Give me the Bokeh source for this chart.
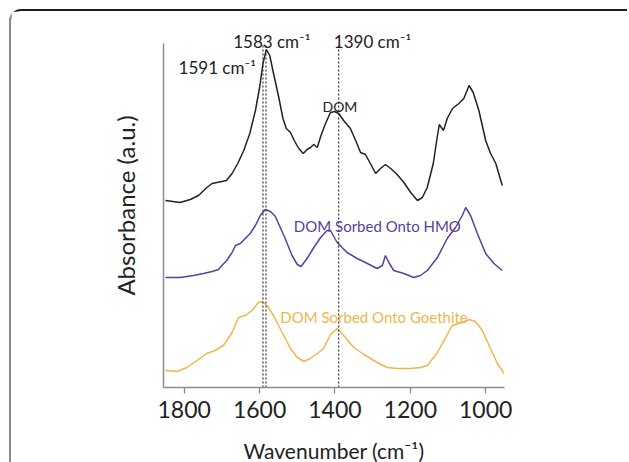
from bokeh.plotting import figure
from bokeh.models import Range1d, FixedTicker, Label
from bokeh.embed import file_html
from bokeh.resources import INLINE

# ---- data ----
dom_wn = [1850, 1811, 1784, 1762, 1740, 1726, 1713, 1700, 1688, 1673, 1658, 1642, 1626, 1611,
          1600, 1591, 1582, 1573, 1563, 1549, 1538, 1529, 1518, 1508, 1496, 1484, 1474, 1465,
          1456, 1447, 1437, 1425, 1412, 1401, 1390, 1377, 1359, 1345, 1332, 1319, 1306, 1292,
          1279, 1266, 1252, 1235, 1217, 1199, 1181, 1168, 1155, 1139, 1130, 1123, 1112, 1102,
          1088, 1071, 1058, 1044, 1033, 1018, 1000, 987, 973, 956]
dom_abs = [1.87, 1.85, 1.88, 1.92, 2.00, 2.04, 2.05, 2.06, 2.07, 2.14, 2.24, 2.37, 2.54, 2.77,
           3.00, 3.24, 3.38, 3.32, 3.14, 2.90, 2.69, 2.59, 2.55, 2.47, 2.39, 2.34, 2.38, 2.40,
           2.43, 2.40, 2.52, 2.64, 2.75, 2.76, 2.74, 2.67, 2.59, 2.47, 2.35, 2.33, 2.24, 2.14,
           2.19, 2.23, 2.19, 2.13, 2.05, 1.95, 1.87, 1.90, 2.00, 2.24, 2.47, 2.63, 2.57, 2.69,
           2.79, 2.84, 2.89, 3.02, 2.95, 2.77, 2.47, 2.34, 2.24, 2.02]

hmo_wn = [1850, 1811, 1775, 1749, 1726, 1709, 1700, 1687, 1673, 1664, 1651, 1638, 1625, 1611,
          1598, 1585, 1571, 1558, 1545, 1532, 1514, 1500, 1490, 1474, 1456, 1438, 1421, 1412,
          1394, 1368, 1341, 1314, 1288, 1274, 1266, 1257, 1244, 1217, 1191, 1173, 1155, 1128,
          1102, 1080, 1062, 1053, 1040, 1022, 1000, 978, 956]
hmo_abs = [1.10, 1.10, 1.12, 1.14, 1.16, 1.18, 1.22, 1.27, 1.35, 1.42, 1.44, 1.49, 1.54, 1.62,
           1.72, 1.78, 1.76, 1.71, 1.60, 1.49, 1.32, 1.23, 1.21, 1.29, 1.40, 1.50, 1.57, 1.57,
           1.45, 1.35, 1.29, 1.24, 1.19, 1.22, 1.32, 1.25, 1.17, 1.14, 1.10, 1.12, 1.17, 1.30,
           1.49, 1.60, 1.72, 1.80, 1.72, 1.54, 1.34, 1.24, 1.17]

goe_wn = [1850, 1819, 1793, 1766, 1740, 1718, 1696, 1673, 1656, 1638, 1620, 1603, 1594, 1580,
          1563, 1540, 1518, 1500, 1483, 1465, 1447, 1430, 1412, 1394, 1377, 1350, 1323, 1288,
          1261, 1235, 1199, 1173, 1155, 1128, 1106, 1089, 1062, 1044, 1027, 1009, 987, 969, 951]
goe_abs = [0.17, 0.16, 0.20, 0.27, 0.34, 0.37, 0.42, 0.55, 0.70, 0.72, 0.77, 0.85, 0.86, 0.82,
           0.72, 0.55, 0.39, 0.30, 0.26, 0.29, 0.34, 0.39, 0.53, 0.59, 0.52, 0.40, 0.33, 0.25,
           0.20, 0.19, 0.19, 0.20, 0.22, 0.35, 0.50, 0.62, 0.65, 0.68, 0.66, 0.57, 0.39, 0.24, 0.14]

marker_wn = [1591, 1583, 1390]
x_ticks = [1800, 1600, 1400, 1200, 1000]
y_axis_span = (0, 3.44)

FONT = "Lato"
BLACK = "#222222"
PURPLE = "#5b3f9b"
ORANGE = "#f2b54a"

p = figure(width=618, height=461, output_backend="svg", toolbar_location=None,
           x_range=Range1d(1855, 950), y_range=Range1d(0, 3.64),
           min_border_left=152, min_border_right=125, min_border_top=12, min_border_bottom=85)
p.styles = {"margin-left": "9px", "margin-top": "9px",
            "border-left": "2px solid #8a8a8a", "border-top": "2px solid #1e1e1e",
            "border-top-left-radius": "12px"}
p.outline_line_color = None
p.xgrid.visible = False
p.ygrid.visible = False
p.background_fill_color = "white"
p.border_fill_color = "white"

ax = p.xaxis[0]
ax.ticker = FixedTicker(ticks=x_ticks)
ax.minor_tick_line_color = None
ax.major_tick_in = 0
ax.major_tick_out = 6
ax.axis_line_color = "#8c8c8c"
ax.axis_line_width = 1.5
ax.major_tick_line_color = "#8c8c8c"
ax.major_tick_line_width = 1.3
ax.major_label_text_font = FONT
ax.major_label_text_font_size = "23px"
ax.major_label_text_color = BLACK
ax.major_label_standoff = 7
ax.axis_label = "Wavenumber (cm⁻¹)"
ax.axis_label_text_font = FONT
ax.axis_label_text_font_size = "21px"
ax.axis_label_text_font_style = "normal"
ax.axis_label_text_color = BLACK
ax.axis_label_standoff = 17

ay = p.yaxis[0]
ay.ticker = FixedTicker(ticks=[])
ay.bounds = y_axis_span
ay.minor_tick_line_color = None
ay.major_tick_line_color = None
ay.major_label_standoff = 0
ay.axis_line_color = "#8c8c8c"
ay.axis_line_width = 1.5
ay.axis_label = "Absorbance (a.u.)"
ay.axis_label_text_font = FONT
ay.axis_label_text_font_size = "24px"
ay.axis_label_text_font_style = "normal"
ay.axis_label_text_color = BLACK
ay.axis_label_standoff = 24

p.line(dom_wn, dom_abs, line_color=BLACK, line_width=1.5)
p.line(hmo_wn, hmo_abs, line_color=PURPLE, line_width=1.5)
p.line(goe_wn, goe_abs, line_color=ORANGE, line_width=1.5)

p.segment(x0=marker_wn, y0=[y_axis_span[0]] * len(marker_wn),
          x1=marker_wn, y1=[y_axis_span[1]] * len(marker_wn),
          line_color="#333333", line_width=1.2, line_dash="2 2")

labels = [
    ("1583 cm⁻¹", 1670, 3.463, BLACK, "17px"),
    ("1390 cm⁻¹", 1403, 3.463, BLACK, "17px"),
    ("1591 cm⁻¹", 1815, 3.203, BLACK, "17px"),
    ("DOM", 1433, 2.81, BLACK, "14px"),
    ("DOM Sorbed Onto HMO", 1509, 1.62, PURPLE, "15px"),
    ("DOM Sorbed Onto Goethite", 1545, 0.703, ORANGE, "15px"),
]
for t, x, y, c, s in labels:
    p.add_layout(Label(x=x, y=y, text=t, text_color=c, text_font=FONT,
                       text_font_size=s, text_align="left", text_baseline="alphabetic"))

open("out.html", "w").write(file_html(p, INLINE))
